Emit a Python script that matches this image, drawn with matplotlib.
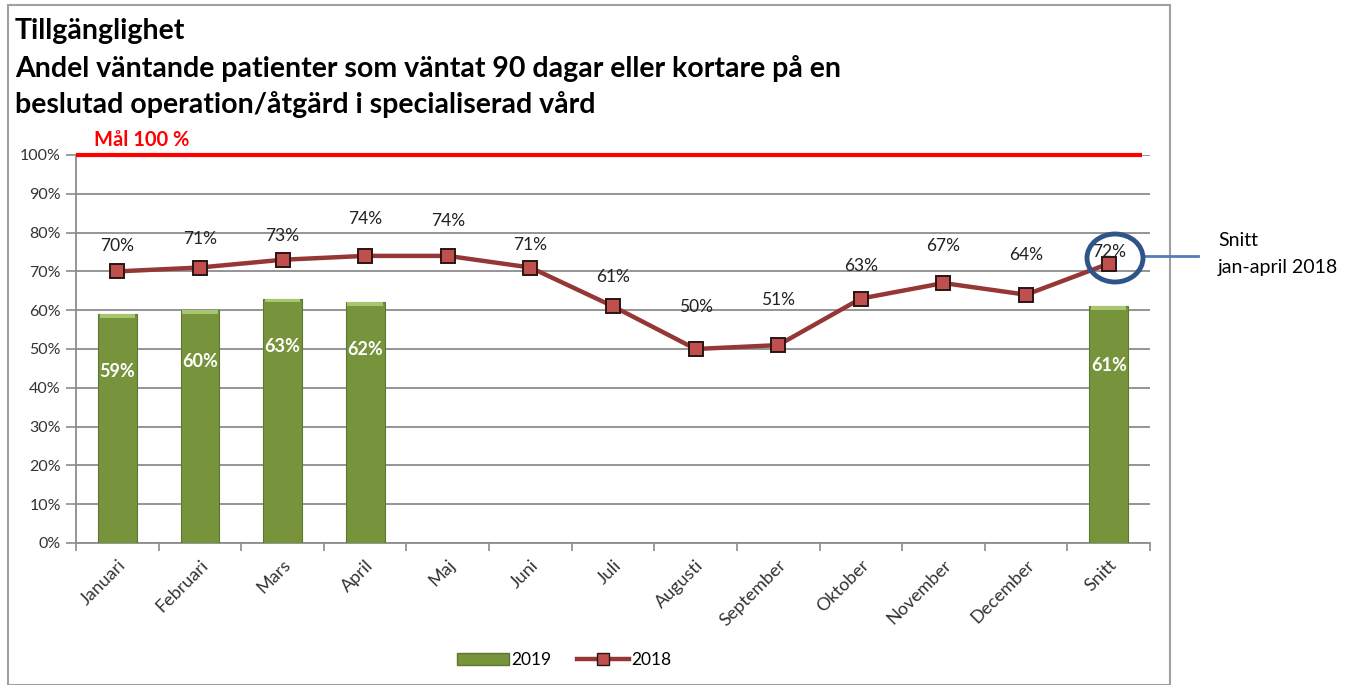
import matplotlib
matplotlib.use("Agg")
import matplotlib.pyplot as plt
from matplotlib.patches import Rectangle, Ellipse
from matplotlib.lines import Line2D
import numpy as np

plt.rcParams["font.family"] = ["Lato", "DejaVu Sans"]

months = ["Januari", "Februari", "Mars", "April", "Maj", "Juni", "Juli",
          "Augusti", "September", "Oktober", "November", "December", "Snitt"]
values_2019 = [59, 60, 63, 62, None, None, None, None, None, None, None, None, 61]
values_2018 = [70, 71, 73, 74, 74, 71, 61, 50, 51, 63, 67, 64, 72]
target = 100

# pixel offsets of the value labels
label_dy_2018 = [25, 29, 24, 37, 35, 23, 29, 42, 45, 33, 37, 40, 12]
label_dy_2019 = [-57, -51, -48, -47, -59]

W, H = 1353, 685
fig = plt.figure(figsize=(W / 100, H / 100), dpi=100)
ax = fig.add_axes([76 / W, 1 - 543 / H, (1150 - 76) / W, (543 - 155) / H])

x = np.arange(len(months))
bar_x = [i for i, v in enumerate(values_2019) if v is not None]
bar_v = [v for v in values_2019 if v is not None]

green = "#77933C"
ax.bar(bar_x, bar_v, width=0.47, color=green, edgecolor="#5E7730",
       linewidth=0.8, zorder=3)
ax.bar(bar_x, [1.0] * len(bar_v), bottom=[v - 1.0 for v in bar_v],
       width=0.43, color="#A8C670", linewidth=0, zorder=4)

for xi, v, dy in zip(bar_x, bar_v, label_dy_2019):
    ax.annotate(f"{v}%", (xi, v), xytext=(0, dy), textcoords="offset pixels",
                ha="center", va="center", color="white", fontsize=13,
                fontweight="bold", zorder=6)

line_color = "#953735"
ax.plot(x, values_2018, color=line_color, lw=3.2, marker="s", markersize=9.5,
        markerfacecolor="#C0504D", markeredgecolor="#2B1514",
        markeredgewidth=1.4, zorder=5)
for xi, v, dy in zip(x, values_2018, label_dy_2018):
    ax.annotate(f"{v}%", (xi, v), xytext=(0, dy), textcoords="offset pixels",
                ha="center", va="center", color="#222222", fontsize=12.5,
                zorder=6)

# target line
ax.plot([-0.5, len(months) - 0.6], [target, target], color="#FF0000", lw=3,
        clip_on=False, zorder=4, solid_capstyle="butt")
ax.text(0.22 - 0.5, target + 1.2, f"Mål {target} %", color="#FF0000",
        fontsize=14.5, fontweight="bold", va="bottom", ha="left")

ax.set_xlim(-0.5, len(months) - 0.5)
ax.set_ylim(0, 100)
ax.set_yticks(np.arange(0, 101, 10))
ax.set_yticklabels([f"{t}%" for t in range(0, 101, 10)], fontsize=11.5,
                   color="#333333")
ax.yaxis.grid(True, color="#8C8C8C", lw=1.3, zorder=0)
ax.set_axisbelow(True)

ax.set_xticks(x)
ax.set_xticklabels(months, rotation=45, ha="right", rotation_mode="anchor",
                   fontsize=13, color="#333333")
ax.set_xticks(np.arange(-0.5, len(months)), minor=True)
ax.tick_params(axis="x", which="major", length=0, pad=10)
ax.tick_params(axis="x", which="minor", length=6, color="#8C8C8C", width=1.2)
ax.tick_params(axis="y", length=7, color="#8C8C8C", width=1.2, pad=4)

for side in ["top", "right"]:
    ax.spines[side].set_visible(False)
for side in ["left", "bottom"]:
    ax.spines[side].set_color("#8C8C8C")
    ax.spines[side].set_linewidth(1.3)

# titles
fig.text(15 / W, 1 - 31 / H, "Tillgänglighet", fontsize=20.5, fontweight="bold",
         va="center", ha="left")
fig.text(15 / W, 1 - 69 / H,
         "Andel väntande patienter som väntat 90 dagar eller kortare på en",
         fontsize=20.5, fontweight="bold", va="center", ha="left")
fig.text(15 / W, 1 - 104 / H, "beslutad operation/åtgärd i specialiserad vård",
         fontsize=20.5, fontweight="bold", va="center", ha="left")

# legend
handles = [Rectangle((0, 0), 1, 1, facecolor=green, edgecolor="#5E7730"),
           Line2D([], [], color=line_color, lw=3.2, marker="s", markersize=9,
                  markerfacecolor="#C0504D", markeredgecolor="#2B1514")]
fig.legend(handles, ["2019", "2018"], loc="center",
           bbox_to_anchor=(564 / W, 1 - 660 / H), ncol=2, frameon=False,
           fontsize=12.5, handlelength=3.0, handletextpad=0.1,
           columnspacing=1.5)

# outer frame
fig.patches.append(Rectangle((8 / W, 0), (1170 - 8) / W, 1 - 5 / H,
                             transform=fig.transFigure, fill=False,
                             edgecolor="#A0A0A0", lw=1.5))

# callout for the average
fig.patches.append(Ellipse((1115 / W, 1 - 258 / H), 56 / W, 48 / H,
                           transform=fig.transFigure, fill=False,
                           edgecolor="#2F5487", lw=3.5, zorder=10))
fig.lines.append(Line2D([1143 / W, 1198 / W], [1 - 256 / H, 1 - 256 / H],
                        transform=fig.transFigure, color="#4F7EB8", lw=2))
fig.text(1218 / W, 1 - 241 / H, "Snitt", fontsize=14, va="center", ha="left")
fig.text(1218 / W, 1 - 268 / H, "jan-april 2018", fontsize=14, va="center",
         ha="left")

fig.savefig("out.png", dpi=100)
